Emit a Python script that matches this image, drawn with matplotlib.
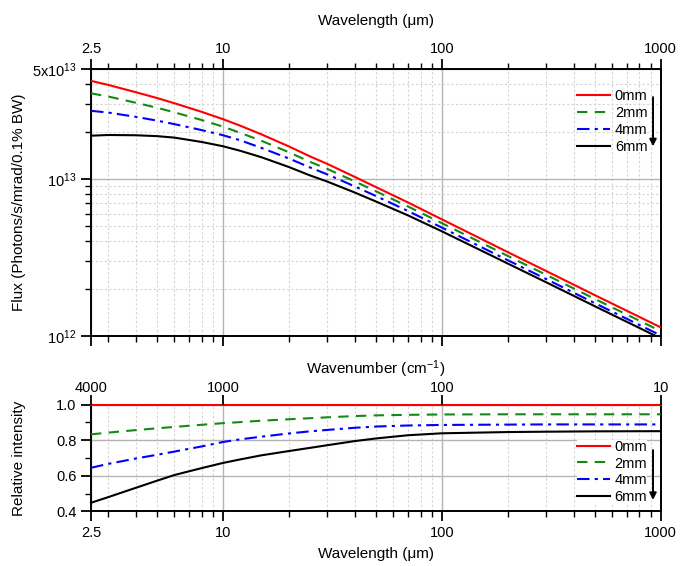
import matplotlib
matplotlib.use("Agg")
import matplotlib.pyplot as plt
from matplotlib.ticker import FixedLocator, FixedFormatter, NullFormatter

plt.rcParams['font.family'] = ['Liberation Sans', 'DejaVu Sans']
plt.rcParams['mathtext.fontset'] = 'custom'
plt.rcParams['mathtext.rm'] = 'Liberation Sans'
plt.rcParams['mathtext.it'] = 'Liberation Sans:italic'
plt.rcParams['font.size'] = 10.5

# ---------------- data ----------------
wavelength = [2.5, 3, 4, 5, 6, 8, 10, 12, 15, 20, 25, 30, 40, 50, 70, 100, 200, 300, 500, 1000]
labels = ['0mm', '2mm', '4mm', '6mm']

flux_0mm = [4.20e13, 3.96e13, 3.56e13, 3.27e13, 3.03e13, 2.67e13, 2.40e13, 2.18e13, 1.92e13, 1.61e13,
            1.39e13, 1.245e13, 1.03e13, 8.87e12, 7.08e12, 5.53e12, 3.42e12, 2.59e12, 1.82e12, 1.135e12]
flux_2mm = [3.50e13, 3.34e13, 3.05e13, 2.835e13, 2.651e13, 2.368e13, 2.150e13, 1.963e13, 1.747e13,
            1.478e13, 1.284e13, 1.157e13, 9.64e12, 8.34e12, 6.68e12, 5.23e12, 3.235e12, 2.45e12,
            1.722e12, 1.074e12]
flux_4mm = [2.709e13, 2.641e13, 2.481e13, 2.348e13, 2.230e13, 2.043e13, 1.896e13, 1.760e13, 1.574e13,
            1.349e13, 1.182e13, 1.068e13, 8.96e12, 7.78e12, 6.25e12, 4.90e12, 3.037e12, 2.303e12,
            1.618e12, 1.009e12]
flux_6mm = [1.882e13, 1.901e13, 1.894e13, 1.870e13, 1.830e13, 1.717e13, 1.613e13, 1.509e13, 1.373e13,
            1.190e13, 1.052e13, 9.61e12, 8.19e12, 7.18e12, 5.86e12, 4.64e12, 2.893e12, 2.196e12,
            1.547e12, 9.66e11]

rel_0mm = [1.0] * len(wavelength)
rel_2mm = [0.833, 0.843, 0.857, 0.867, 0.875, 0.887, 0.896, 0.902, 0.910, 0.918, 0.924, 0.929,
           0.936, 0.940, 0.943, 0.945, 0.946, 0.946, 0.946, 0.946]
rel_4mm = [0.645, 0.667, 0.697, 0.718, 0.736, 0.765, 0.790, 0.805, 0.820, 0.838, 0.850, 0.858,
           0.870, 0.877, 0.883, 0.886, 0.888, 0.889, 0.889, 0.889]
rel_6mm = [0.448, 0.480, 0.532, 0.572, 0.604, 0.643, 0.672, 0.692, 0.715, 0.739, 0.757, 0.772,
           0.795, 0.810, 0.828, 0.839, 0.846, 0.848, 0.850, 0.851]

wl_major = [2.5, 10, 100, 1000]
wl_major_labels = ['2.5', '10', '100', '1000']
wl_minor = [3, 4, 5, 6, 7, 8, 9, 20, 30, 40, 50, 60, 70, 80, 90,
            200, 300, 400, 500, 600, 700, 800, 900]
wn_major = [4000, 1000, 100, 10]
wn_major_labels = ['4000', '1000', '100', '10']
flux_major = [1e12, 1e13, 5e13]
flux_major_labels = [r'$10^{12}$', r'$10^{13}$', r'5x$10^{13}$']
flux_minor = [2e12, 3e12, 4e12, 5e12, 6e12, 7e12, 8e12, 9e12, 2e13, 3e13, 4e13]
rel_major = [0.4, 0.6, 0.8, 1.0]
rel_major_labels = ['0.4', '0.6', '0.8', '1.0']
rel_minor = [0.5, 0.7, 0.9]

colors = ['#ff0000', '#138a13', '#0000ff', '#000000']
styles = ['-', (0, (5, 3.5)), (0, (6, 2.5, 1.5, 2.5)), '-']
lw = 1.5

W, H = 680, 566
fig = plt.figure(figsize=(W / 100, H / 100), dpi=100)

def frac(l, r, t, b):
    return [l / W, 1 - b / H, (r - l) / W, (b - t) / H]

ax1 = fig.add_axes(frac(91, 660.7, 69, 336))
ax2 = fig.add_axes(frac(91, 660.7, 404.7, 511.3))

spine_lw = 1.4
grid_major = dict(color='#b4b4b4', linewidth=1.0, linestyle='-')
grid_minor = dict(color='#d4d4d4', linewidth=0.8, linestyle=(0, (2, 2)))
ylabel_x = (26 - 91) / 569.7

# ---------- top panel ----------
for y, c, s, lab in zip([flux_0mm, flux_2mm, flux_4mm, flux_6mm], colors, styles, labels):
    ax1.plot(wavelength, y, color=c, linestyle=s, linewidth=lw, label=lab, zorder=3)
ax1.set_xscale('log')
ax1.set_yscale('log')
ax1.set_xlim(2.5, 1000)
ax1.set_ylim(1e12, 5e13)
ax1.xaxis.set_major_locator(FixedLocator(wl_major))
ax1.xaxis.set_major_formatter(FixedFormatter(wl_major_labels))
ax1.xaxis.set_minor_locator(FixedLocator(wl_minor))
ax1.xaxis.set_minor_formatter(NullFormatter())
ax1.yaxis.set_major_locator(FixedLocator(flux_major))
ax1.yaxis.set_major_formatter(FixedFormatter(flux_major_labels))
ax1.yaxis.set_minor_locator(FixedLocator(flux_minor))
ax1.yaxis.set_minor_formatter(NullFormatter())
ax1.tick_params(axis='x', which='both', top=True, bottom=True, labeltop=True, labelbottom=False,
                direction='out')
ax1.tick_params(axis='y', which='both', left=True, right=False, direction='out')
ax1.tick_params(which='major', length=7, width=1.3, labelsize=10.5)
ax1.tick_params(which='minor', length=4, width=1.0)
ax1.tick_params(axis='x', which='major', pad=2.5)
ax1.grid(True, which='major', **grid_major)
ax1.grid(True, which='minor', **grid_minor)
ax1.set_axisbelow(True)
ax1.xaxis.set_label_position('top')
ax1.set_xlabel('Wavelength (\u03bcm)', fontsize=11, labelpad=12)
ax1.set_ylabel('Flux (Photons/s/mrad/0.1% BW)', fontsize=11)
ax1.yaxis.set_label_coords(ylabel_x, 0.5)
for sp in ax1.spines.values():
    sp.set_linewidth(spine_lw)
leg1 = ax1.legend(loc='upper left', bbox_to_anchor=(0.853, 0.924), frameon=False, fontsize=10.5,
                  borderpad=0, borderaxespad=0, handlelength=2.3, handletextpad=0.3,
                  labelspacing=0.2)
ax1.annotate('', xy=(0.9865, 0.70), xytext=(0.9865, 0.905), xycoords='axes fraction',
             arrowprops=dict(arrowstyle='-|>', color='black', lw=1.4, mutation_scale=10))

# ---------- bottom panel ----------
for y, c, s, lab in zip([rel_0mm, rel_2mm, rel_4mm, rel_6mm], colors, styles, labels):
    ax2.plot(wavelength, y, color=c, linestyle=s, linewidth=lw, label=lab, zorder=3,
             clip_on=False)
ax2.set_xscale('log')
ax2.set_xlim(2.5, 1000)
ax2.set_ylim(0.4, 1.0)
ax2.xaxis.set_major_locator(FixedLocator(wl_major))
ax2.xaxis.set_major_formatter(FixedFormatter(wl_major_labels))
ax2.xaxis.set_minor_locator(FixedLocator(wl_minor))
ax2.xaxis.set_minor_formatter(NullFormatter())
ax2.yaxis.set_major_locator(FixedLocator(rel_major))
ax2.yaxis.set_major_formatter(FixedFormatter(rel_major_labels))
ax2.yaxis.set_minor_locator(FixedLocator(rel_minor))
ax2.yaxis.set_minor_formatter(NullFormatter())
ax2.tick_params(axis='x', which='both', top=False, bottom=True, direction='out')
ax2.tick_params(axis='y', which='both', left=True, right=False, direction='out')
ax2.tick_params(which='major', length=7, width=1.3, labelsize=10.5)
ax2.tick_params(which='minor', length=4, width=1.0)
ax2.grid(True, which='major', **grid_major)
ax2.xaxis.grid(True, which='minor', **grid_minor)
ax2.set_axisbelow(True)
ax2.set_xlabel('Wavelength (\u03bcm)', fontsize=11, labelpad=5)
ax2.set_ylabel('Relative intensity', fontsize=11)
ax2.yaxis.set_label_coords(ylabel_x, 0.5)
for sp in ax2.spines.values():
    sp.set_linewidth(spine_lw)

ax2t = ax2.twiny()
ax2t.set_xscale('log')
ax2t.set_xlim(1e4 / 2.5, 1e4 / 1000)
ax2t.xaxis.set_major_locator(FixedLocator(wn_major))
ax2t.xaxis.set_major_formatter(FixedFormatter(wn_major_labels))
ax2t.xaxis.set_minor_locator(FixedLocator([]))
ax2t.tick_params(axis='x', which='major', length=7, width=1.3, labelsize=10.5, direction='out',
                 pad=0.0)
ax2t.set_xlabel('Wavenumber (cm$^{-1}$)', fontsize=11, labelpad=5)
for sp in ax2t.spines.values():
    sp.set_visible(False)

leg2 = ax2.legend(loc='upper left', bbox_to_anchor=(0.8524, 0.672), frameon=True, fontsize=10.5,
                  borderpad=0, borderaxespad=0, handlelength=2.3, handletextpad=0.3,
                  labelspacing=0.2, fancybox=False, framealpha=1)
leg2.get_frame().set_facecolor('white')
leg2.get_frame().set_edgecolor('none')
ax2.annotate('', xy=(0.9865, 0.08), xytext=(0.9865, 0.60), xycoords='axes fraction',
             arrowprops=dict(arrowstyle='-|>', color='black', lw=1.4, mutation_scale=10))

fig.savefig('out.png', dpi=100)
